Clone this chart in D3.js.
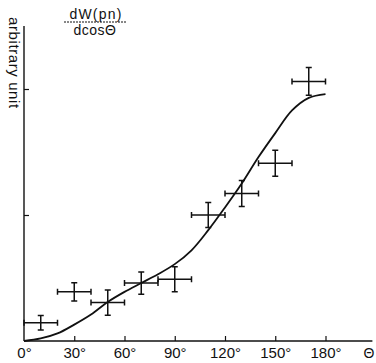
<!DOCTYPE html>
<html>
<head>
<meta charset="utf-8">
<script src="https://cdn.jsdelivr.net/npm/d3@7"></script>
<style>
  body { margin: 0; background: #fff; }
  svg { display: block; font-family: "Liberation Sans", Arial, sans-serif; }
</style>
</head>
<body>
<svg id="chart" width="376" height="363"></svg>
<script>
// measured points: bin centre (deg), half bin width, value, error
const angles = [10, 30, 50, 70, 90, 110, 130, 150, 170];
const angleErr = [10, 10, 10, 10, 10, 10, 10, 10, 10];
const values = [0.145, 0.39, 0.305, 0.46, 0.49, 1.0, 1.17, 1.41, 2.06];
const valueErr = [0.057, 0.072, 0.1, 0.088, 0.1, 0.1, 0.103, 0.103, 0.11];

// theoretical curve
const curveAngles = [0, 10, 20, 30, 40, 50, 60, 70, 80, 90, 100, 110, 120, 130, 140, 150, 160, 170, 180];
const curveValues = [0, 0.02, 0.06, 0.13, 0.21, 0.31, 0.39, 0.46, 0.53, 0.61, 0.72, 0.88, 1.06, 1.25, 1.46, 1.65, 1.83, 1.93, 1.96];

const xTicks = [0, 30, 60, 90, 120, 150, 180];
const yTicks = [1, 2];

const svg = d3.select("#chart");
const x = d3.scaleLinear().domain([0, 180]).range([24, 325.5]);
const y = d3.scaleLinear().domain([0, 2.5]).range([341, 26]);
const X_END = 208;  // axis line runs past the last tick
const CAP = 3;

const ink = "#111";

// x axis
const xAxis = svg.append("g")
  .attr("transform", `translate(0,${y(0)})`)
  .call(d3.axisBottom(x).tickValues(xTicks).tickSize(-5).tickPadding(6)
    .tickFormat(d => `${d}°`));
xAxis.select(".domain").remove();
xAxis.selectAll(".tick line").attr("stroke", ink).attr("stroke-width", 1.2)
  .filter(d => d === 0).remove();
xAxis.selectAll("text").attr("font-size", 15).attr("fill", ink);

svg.append("line")
  .attr("x1", x(0)).attr("x2", x(X_END))
  .attr("y1", y(0)).attr("y2", y(0))
  .attr("stroke", ink).attr("stroke-width", 1.4);

// y axis
const yAxis = svg.append("g")
  .attr("transform", `translate(${x(0)},0)`)
  .call(d3.axisLeft(y).tickValues(yTicks).tickSize(-5).tickFormat(""));
yAxis.select(".domain").remove();
yAxis.selectAll(".tick line").attr("stroke", ink).attr("stroke-width", 1.2);

svg.append("line")
  .attr("x1", x(0)).attr("x2", x(0))
  .attr("y1", y(0)).attr("y2", y(2.5))
  .attr("stroke", ink).attr("stroke-width", 1.4);

// axis labels
svg.append("text")
  .attr("transform", `translate(9,17) rotate(90)`)
  .attr("font-size", 15)
  .attr("letter-spacing", 0.6)
  .attr("fill", ink)
  .text("arbitrary unit");

svg.append("text")
  .attr("x", 369).attr("y", 358)
  .attr("text-anchor", "middle")
  .attr("font-size", 14)
  .attr("fill", ink)
  .text("Θ");

// title fraction
const title = svg.append("g").attr("fill", ink).attr("font-size", 14);
title.append("text").attr("x", 96).attr("y", 19).attr("text-anchor", "middle")
  .attr("letter-spacing", 1.2).text("dW(pn)");
title.append("line").attr("x1", 64).attr("x2", 127).attr("y1", 22).attr("y2", 22)
  .attr("stroke", ink).attr("stroke-width", 1).attr("stroke-dasharray", "2,1");
title.append("text").attr("x", 95).attr("y", 35).attr("text-anchor", "middle")
  .attr("letter-spacing", 0.5).text("dcosΘ");

// curve
const line = d3.line()
  .x((d, i) => x(curveAngles[i]))
  .y(d => y(d))
  .curve(d3.curveCatmullRom.alpha(0.5));

svg.append("path")
  .datum(curveValues)
  .attr("d", line)
  .attr("fill", "none")
  .attr("stroke", ink)
  .attr("stroke-width", 1.8);

// error crosses
const pts = angles.map((a, i) => ({ a, da: angleErr[i], v: values[i], dv: valueErr[i] }));
const cross = svg.append("g").attr("stroke", ink).attr("stroke-width", 1.5)
  .selectAll("g").data(pts).join("g");

cross.append("line")
  .attr("x1", d => x(d.a - d.da)).attr("x2", d => x(d.a + d.da))
  .attr("y1", d => y(d.v)).attr("y2", d => y(d.v));
cross.append("line")
  .attr("x1", d => x(d.a)).attr("x2", d => x(d.a))
  .attr("y1", d => y(d.v - d.dv)).attr("y2", d => y(d.v + d.dv));
// caps
cross.append("path")
  .attr("fill", "none")
  .attr("d", d => {
    const xl = x(d.a - d.da), xr = x(d.a + d.da), yc = y(d.v);
    const xc = x(d.a), yt = y(d.v + d.dv), yb = y(d.v - d.dv);
    return `M${xl},${yc - CAP}V${yc + CAP}M${xr},${yc - CAP}V${yc + CAP}` +
      `M${xc - CAP},${yt}H${xc + CAP}M${xc - CAP},${yb}H${xc + CAP}`;
  });
</script>
</body>
</html>
